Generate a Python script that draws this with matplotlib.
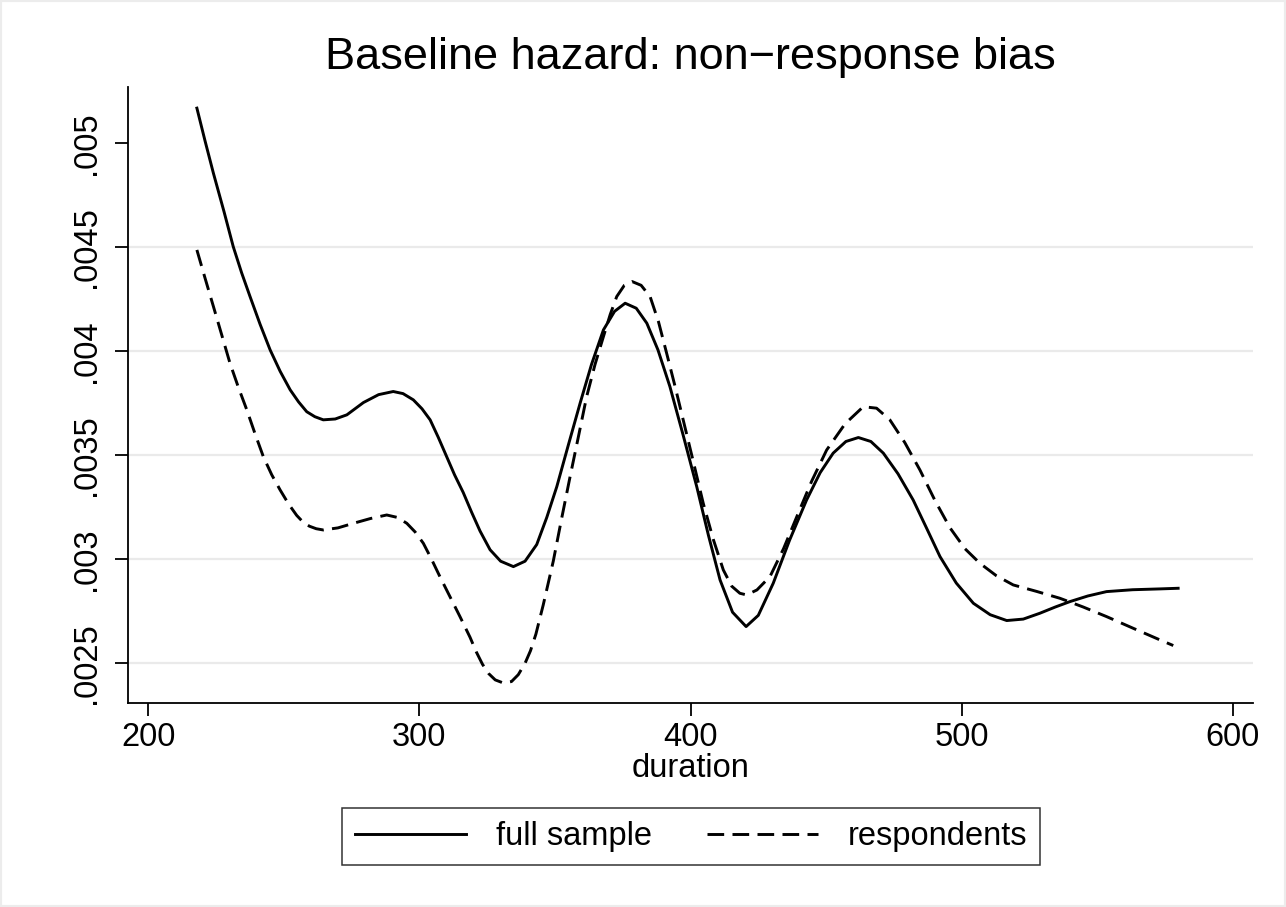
"""
Baseline hazard: non-response bias (Stata-style line chart)
Output: out.png
"""
import matplotlib
matplotlib.use("Agg")
import matplotlib.pyplot as plt
from matplotlib.patches import Rectangle

plt.rcParams["font.family"] = ["Liberation Sans", "DejaVu Sans"]
plt.rcParams["lines.scale_dashes"] = False

# ── Data ──────────────────────────────────────────────────────────────────────
full_x = [218.0, 221.0, 224.1, 228.0, 231.4, 234.5, 237.6, 241.3, 245.0, 248.7,
          252.4, 255.5, 258.5, 261.5, 264.6, 269.0, 273.3, 276.3, 279.4, 285.0,
          290.4, 294.0, 297.8, 301.0, 304.0, 307.0, 310.1, 313.0, 316.2, 319.3,
          322.4, 326.1, 330.0, 334.7, 339.0, 343.3, 347.0, 350.7, 355.0, 359.3,
          363.5, 367.9, 372.0, 375.9, 380.0, 383.9, 388.0, 392.4, 397.3, 402.3,
          406.6, 410.9, 415.5, 420.5, 425.0, 430.5, 436.5, 442.8, 447.8, 452.6,
          457.3, 461.9, 466.5, 471.1, 476.5, 482.1, 487.0, 492.0, 498.0, 504.3,
          510.5, 516.6, 522.7, 528.8, 534.5, 539.9, 546.5, 553.4, 563.0, 573.1,
          579.8]
full_y = [0.005166, 0.005009, 0.004853, 0.004669, 0.004501, 0.004375, 0.004261,
          0.004128, 0.004005, 0.003902, 0.003813, 0.003755, 0.003708, 0.003684,
          0.003669, 0.003673, 0.003693, 0.003722, 0.003752, 0.003790, 0.003805,
          0.003795, 0.003765, 0.003722, 0.003669, 0.003585, 0.003492, 0.003405,
          0.003320, 0.003225, 0.003135, 0.003045, 0.002990, 0.002964, 0.002990,
          0.003070, 0.003200, 0.003348, 0.003550, 0.003749, 0.003935, 0.004101,
          0.004190, 0.004229, 0.004205, 0.004133, 0.004005, 0.003829, 0.003595,
          0.003348, 0.003115, 0.002900, 0.002745, 0.002676, 0.002730, 0.002884,
          0.003090, 0.003284, 0.003415, 0.003509, 0.003565, 0.003584, 0.003565,
          0.003509, 0.003410, 0.003284, 0.003150, 0.003012, 0.002885, 0.002788,
          0.002733, 0.002705, 0.002712, 0.002740, 0.002770, 0.002796, 0.002823,
          0.002844, 0.002853, 0.002857, 0.002860]

resp_x = [218.0, 221.0, 224.1, 227.2, 230.2, 233.3, 236.4, 239.5, 242.5, 245.6,
          248.7, 251.8, 254.8, 257.2, 259.5, 262.0, 264.6, 270.0, 275.7, 282.0,
          288.0, 292.0, 295.4, 298.5, 301.5, 304.5, 307.6, 311.3, 315.0, 318.7,
          321.0, 323.3, 325.6, 328.0, 331.0, 334.0, 336.5, 339.0, 341.0, 343.0,
          345.7, 349.4, 352.5, 355.6, 358.7, 361.7, 364.8, 367.9, 370.4, 372.8,
          375.6, 378.5, 381.8, 385.1, 388.2, 391.2, 394.3, 397.3, 401.0, 404.7,
          408.4, 412.1, 415.2, 418.2, 420.7, 424.5, 429.3, 434.3, 439.2, 444.7,
          450.2, 457.0, 463.7, 468.6, 473.5, 479.0, 484.6, 490.2, 495.7, 501.2,
          506.7, 512.8, 519.0, 527.6, 536.2, 544.8, 553.4, 563.2, 573.1, 578.0]
resp_y = [0.004485, 0.004350, 0.004213, 0.004075, 0.003941, 0.003825, 0.003717,
          0.003600, 0.003492, 0.003405, 0.003332, 0.003265, 0.003210, 0.003177,
          0.003158, 0.003146, 0.003140, 0.003150, 0.003172, 0.003195, 0.003212,
          0.003200, 0.003172, 0.003130, 0.003076, 0.003000, 0.002916, 0.002820,
          0.002724, 0.002625, 0.002555, 0.002495, 0.002450, 0.002420, 0.002405,
          0.002412, 0.002445, 0.002500, 0.002560, 0.002640, 0.002780, 0.002990,
          0.003196, 0.003396, 0.003590, 0.003780, 0.003935, 0.004069, 0.004175,
          0.004261, 0.004315, 0.004333, 0.004315, 0.004261, 0.004140, 0.003989,
          0.003830, 0.003669, 0.003470, 0.003268, 0.003095, 0.002948, 0.002870,
          0.002836, 0.002828, 0.002852, 0.002916, 0.003050, 0.003204, 0.003375,
          0.003524, 0.003650, 0.003732, 0.003725, 0.003669, 0.003560, 0.003428,
          0.003280, 0.003150, 0.003050, 0.002980, 0.002920, 0.002876, 0.002845,
          0.002812, 0.002770, 0.002724, 0.002668, 0.002612, 0.002585]

x_ticks = [200, 300, 400, 500, 600]
y_ticks = [0.0025, 0.003, 0.0035, 0.004, 0.0045, 0.005]
y_labels = [".0025", ".003", ".0035", ".004", ".0045", ".005"]
grid_vals = [0.0025, 0.003, 0.0035, 0.004, 0.0045]

FS = 23.5   # tick / label / legend font size

# ── Figure ────────────────────────────────────────────────────────────────────
W, H = 1286, 907
fig = plt.figure(figsize=(W / 100, H / 100), dpi=100, facecolor="white")
fig.patches.append(Rectangle((0, 0), 1, 1, transform=fig.transFigure,
                             facecolor="none", edgecolor="#ececec", lw=3))

L, R, B, T = 128, 1253, 703, 87
ax = fig.add_axes([L / W, 1 - B / H, (R - L) / W, (B - T) / H])
ax.set_xlim(192.6, 607.4)
ax.set_ylim(0.002309, 0.0052675)

for g in grid_vals:
    ax.axhline(g, color="#eaeaea", lw=1.6, zorder=1)

ax.plot(full_x, full_y, color="black", lw=2.1, label="full sample", zorder=3)
ax.plot(resp_x, resp_y, color="black", lw=2.1, linestyle=(0, (12, 6)),
        dash_capstyle="butt", label="respondents", zorder=3)

# ── Axes styling ──────────────────────────────────────────────────────────────
for s in ("top", "right"):
    ax.spines[s].set_visible(False)
for s in ("left", "bottom"):
    ax.spines[s].set_linewidth(1.3)

ax.set_xticks(x_ticks)
ax.set_xticklabels([str(v) for v in x_ticks])
ax.set_yticks(y_ticks)
ax.set_yticklabels(y_labels, rotation=90, va="center")
ax.tick_params(axis="both", direction="out", length=9.5, width=1.3,
               labelsize=FS, color="black")
ax.tick_params(axis="x", pad=4)
ax.tick_params(axis="y", pad=9)

ax.set_xlabel("duration", fontsize=FS, labelpad=0)
fig.text(690.5 / W, 1 - 57 / H, "Baseline hazard: non\u2212response bias",
         ha="center", va="center", fontsize=32.5)

# ── Legend ────────────────────────────────────────────────────────────────────
leg = fig.legend(loc="center", bbox_to_anchor=(691 / W, 1 - 836.5 / H),
                 ncol=2, fontsize=FS, frameon=True, fancybox=False,
                 handlelength=3.4, handletextpad=0.9, columnspacing=1.7,
                 borderpad=0.4)
leg.get_frame().set_edgecolor("black")
leg.get_frame().set_linewidth(1.1)

fig.savefig("out.png", dpi=100, facecolor="white")
